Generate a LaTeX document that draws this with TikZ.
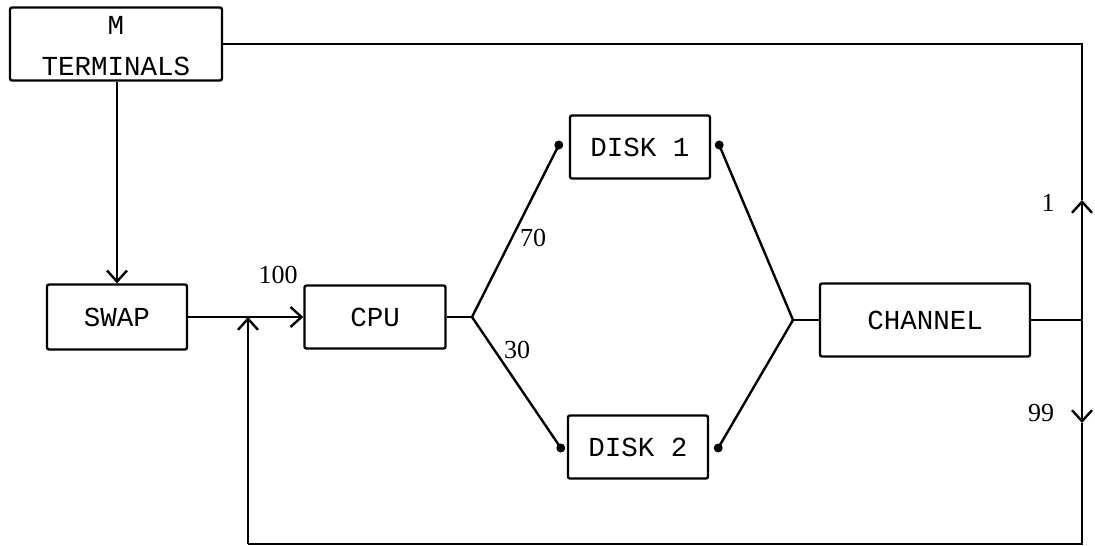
\documentclass[tikz,border=0pt]{standalone}
\usepackage{fontspec}
\setmonofont{Liberation Mono}
\newfontfamily\numfont{Liberation Serif}
\usetikzlibrary{arrows.meta,calc}
\begin{document}
\begin{tikzpicture}[x=1pt,y=-1pt,
  conn/.style={line width=2.4pt},
  barb/.style={conn,-{Straight Barb[length=11pt,width=20pt,line width=2.4pt]}},
  boxfont/.style={font=\ttfamily\fontsize{27.5}{32}\selectfont},
  boxnode/.style={draw,line width=2.4pt,rounded corners=2pt,inner sep=0pt,boxfont},
  numlab/.style={font=\numfont\fontsize{26}{30}\selectfont,inner sep=0pt},
  jdot/.style={circle,fill=black,inner sep=0pt,minimum size=9pt}]
\useasboundingbox (0,0) rectangle (1095,546);

\node[boxnode,minimum width=212pt,minimum height=73pt] (term) at (116,44) {};
\node[boxfont,inner sep=0pt] (tm) at (116,25) {M};
\node[boxfont,inner sep=0pt] (tt) at (116,66) {TERMINALS};
\node[boxnode,minimum width=140pt,minimum height=65pt] (swap) at (117,317) {SWAP};
\node[boxnode,minimum width=141pt,minimum height=63pt] (cpu) at (375,317) {CPU};
\node[boxnode,minimum width=140pt,minimum height=63pt] (disk1) at (640,147) {DISK 1};
\node[boxnode,minimum width=140pt,minimum height=63pt] (disk2) at (638,447) {DISK 2};
\node[boxnode,minimum width=210pt,minimum height=73pt] (chan) at (925,320) {CHANNEL};

\coordinate (jl) at (472,317);
\coordinate (jr) at (793,320);
\coordinate (m) at (248,317);
\coordinate (sp) at (1082,320);
\coordinate (upA) at (1082,200);
\coordinate (dnA) at (1082,423);
\coordinate (br) at (1082,544);
\coordinate (bl) at (248,544);

\node[jdot] (d1l) at ($(disk1.west)+(-10,-2)$) {};
\node[jdot] (d1r) at ($(disk1.east)+(8,-2)$) {};
\node[jdot] (d2l) at ($(disk2.west)+(-6,1)$) {};
\node[jdot] (d2r) at ($(disk2.east)+(9,1)$) {};

% terminals to swap
\draw[barb] (term.south -| swap.north) -- (swap.north);
% swap to cpu
\draw[barb] (swap.east) -- (cpu.west);
% cpu to disks
\draw[conn] (cpu.east) -- (jl);
\draw[conn] (jl) -- (d1l.center);
\draw[conn] (jl) -- (d2l.center);
% disks to channel
\draw[conn] (d1r.center) -- (jr);
\draw[conn] (d2r.center) -- (jr);
\draw[conn] (jr) -- (chan.west);
% channel out
\draw[conn] (chan.east) -- (sp);
\draw[barb] (sp) -- (upA);
\draw[conn] (upA) -- (term.east -| sp) -- (term.east);
\draw[barb] (sp) -- (dnA);
\draw[conn] (dnA) -- (br) -- (bl);
\draw[barb] (bl) -- (m);

% labels
\node[numlab] (l100) at (278,275) {100};
\node[numlab] (l70) at (533,238) {70};
\node[numlab] (l30) at (517,350) {30};
\node[numlab] (l1) at (1048,203) {1};
\node[numlab] (l99) at (1041,413) {99};
\end{tikzpicture}
\end{document}
